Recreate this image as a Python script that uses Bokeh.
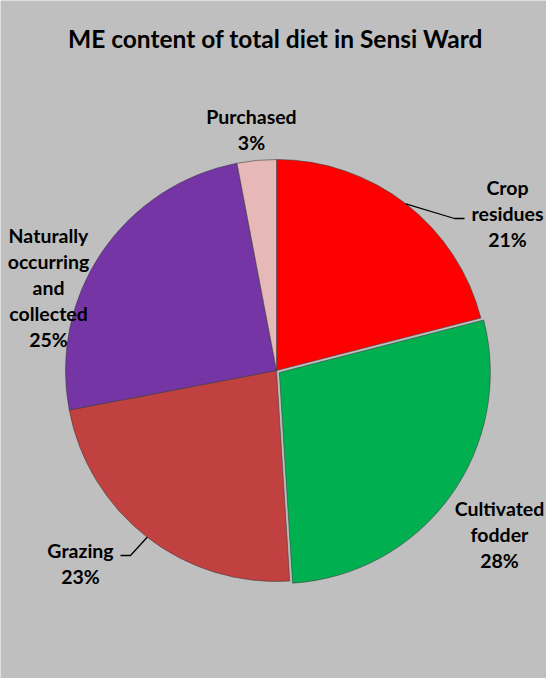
import math
from bokeh.plotting import figure
from bokeh.models import Range1d
from bokeh.core.properties import value
from bokeh.embed import file_html
from bokeh.resources import INLINE

# ---- data ----
categories = ["Crop residues", "Cultivated fodder", "Grazing",
              "Naturally occurring and collected", "Purchased"]
shares = [21, 28, 23, 25, 3]
label_texts = ["Crop\nresidues\n21%", "Cultivated\nfodder\n28%", "Grazing\n23%",
               "Naturally\noccurring\nand\ncollected\n25%", "Purchased\n3%"]
colors = ["#ff0000", "#00b050", "#c0413f", "#7535a5", "#e6b9b8"]
title_text = "ME content of total diet in Sensi Ward"

# ---- layout (page pixel coordinates) ----
W, H = 546, 678
def px(X):
    return X - 8
def py(Y):
    return H + 8 - Y

cx, cy = px(284), py(378)
R = 211
explode = [0, 3.5, 0, 0, 0]
label_pos = [(515, 221), (507, 542), (88, 571), (56, 295), (259, 137)]
leader_elbows = {0: [(462, 226), (472, 226)], 2: [(138, 563), (128, 563)]}

p = figure(width=W, height=H, output_backend="svg", toolbar_location=None,
           x_range=Range1d(0, W), y_range=Range1d(0, H), min_border=0)
p.axis.visible = False
p.grid.visible = False
p.outline_line_color = None
p.background_fill_color = "#bfbfbf"
p.border_fill_color = "#bfbfbf"

total = float(sum(shares))
cum = 0.0
for i, s in enumerate(shares):
    a0 = cum / total
    a1 = (cum + s) / total
    cum += s
    start = math.pi / 2 - a0 * 2 * math.pi
    end = math.pi / 2 - a1 * 2 * math.pi
    mid = (start + end) / 2
    ox = cx + explode[i] * math.cos(mid)
    oy = cy + explode[i] * math.sin(mid)
    p.wedge(x=ox, y=oy, radius=R, start_angle=start, end_angle=end,
            direction="clock", fill_color=colors[i], line_color="#3a3a3a",
            line_alpha=0.55, line_width=1)
    if i in leader_elbows:
        rx = ox + R * math.cos(mid)
        ry = oy + R * math.sin(mid)
        xs = [rx] + [px(e[0]) for e in leader_elbows[i]]
        ys = [ry] + [py(e[1]) for e in leader_elbows[i]]
        p.line(xs, ys, line_color="black", line_width=1.3)

p.text(x=[px(l[0]) for l in label_pos], y=[py(l[1]) for l in label_pos],
       text=label_texts, text_font=value("Lato"), text_font_style="bold",
       text_font_size="19.5px", text_align="center", text_baseline="middle",
       text_line_height=1.13, text_color="black")

p.text(x=[px(283)], y=[py(46)], text=[title_text], text_font=value("Lato"),
       text_font_style="bold", text_font_size="24.5px", text_align="center",
       text_baseline="middle", text_color="black")

open("out.html", "w").write(file_html(p, INLINE))
